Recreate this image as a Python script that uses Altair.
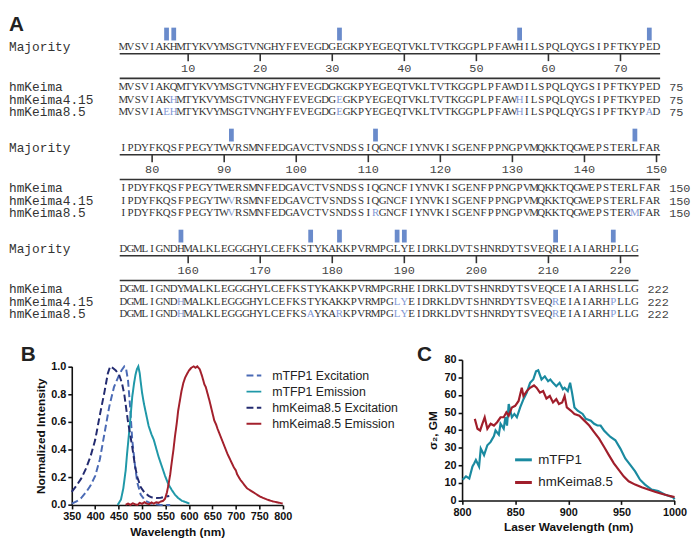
import altair as alt
import pandas as pd

# ---------------- Panel A: sequence alignment ----------------
BLOCK_START = [1, 76, 151]
SEQ_NAMES = ["Majority", "hmKeima", "hmKeima4.15", "hmKeima8.5"]
MAJORITY = [
    "MVSVIAKHMTYKVYMSGTVNGHYFEVEGDGEGKPYEGEQTVKLTVTKGGPLPFAWHILSPQLQYGSIPFTKYPED",
    "IPDYFKQSFPEGYTWVRSMNFEDGAVCTVSNDSSIQGNCFIYNVKISGENFPPNGPVMQKKTQGWEPSTERLFAR",
    "DGMLIGNDHMALKLEGGGHYLCEFKSTYKAKKPVRMPGLYEIDRKLDVTSHNRDYTSVEQREIAIARHPLLG",
]
HMKEIMA = [
    "MVSVIAKQMTYKVYMSGTVNGHYFEVEGDGKGKPYEGEQTVKLTVTKGGPLPFAWDILSPQLQYGSIPFTKYPED",
    "IPDYFKQSFPEGYTWERSMNFEDGAVCTVSNDSSIQGNCFIYNVKISGENFPPNGPVMQKKTQGWEPSTERLFAR",
    "DGMLIGNDYMALKLEGGGHYLCEFKSTYKAKKPVRMPGRHEIDRKLDVTSHNRDYTSVEQCEIAIARHSLLG",
]
HMKEIMA_415 = [
    "MVSVIAKHMTYKVYMSGTVNGHYFEVEGDGEGKPYEGEQTVKLTVTKGGPLPFAWHILSPQLQYGSIPFTKYPED",
    "IPDYFKQSFPEGYTWVRSMNFEDGAVCTVSNDSSIQGNCFIYNVKISGENFPPNGPVMQKKTQGWEPSTERLFAR",
    "DGMLIGNDHMALKLEGGGHYLCEFKSTYKAKKPVRMPGLYEIDRKLDVTSHNRDYTSVEQREIAIARHPLLG",
]
HMKEIMA_85 = [
    "MVSVIAEHMTYKVYMSGTVNGHYFEVEGDGEGKPYEGEQTVKLTVTKGGPLPFAWHILSPQLQYGSIPFTKYPAD",
    "IPDYFKQSFPEGYTWVRSMNFEDGAVCTVSNDSSIRGNCFIYNVKISGENFPPNGPVMQKKTQGWEPSTERMFAR",
    "DGMLIGNDHMALKLEGGGHYLCEFKSAYKARKPVRMPGLYEIDRKLDVTSHNRDYTSVEQREIAIARHPLLG",
]

# ---------------- Panel B: spectra ----------------
B_SERIES = ["mTFP1 Excitation", "mTFP1 Emission", "hmKeima8.5 Excitation", "hmKeima8.5 Emission"]
B_MTFP1_EX_NM = [350, 360, 370, 380, 390, 400, 410, 420, 430, 440, 450, 456, 462, 466, 470, 474, 479, 485, 490, 497, 507, 520, 540, 560]
B_MTFP1_EX_I = [0.01, 0.025, 0.05, 0.09, 0.14, 0.21, 0.33, 0.52, 0.71, 0.85, 0.93, 0.97, 1.0, 0.98, 0.9, 0.73, 0.47, 0.28, 0.16, 0.075, 0.03, 0.01, 0.0, 0.0]
B_MTFP1_EM_NM = [448, 455, 460, 465, 468, 472, 476, 479, 483, 486, 489, 492, 495, 497, 500, 504, 509, 514, 520, 525, 530, 535, 542, 549, 556, 563, 570, 577, 585, 591, 601]
B_MTFP1_EM_I = [0.0, 0.04, 0.12, 0.25, 0.37, 0.51, 0.66, 0.78, 0.88, 0.94, 0.98, 1.0, 0.95, 0.89, 0.81, 0.73, 0.65, 0.57, 0.51, 0.47, 0.41, 0.35, 0.28, 0.21, 0.15, 0.11, 0.075, 0.05, 0.03, 0.023, 0.01]
B_KEIMA_EX_NM = [350, 360, 370, 380, 390, 400, 410, 420, 427, 432, 437, 444, 451, 457, 462, 470, 479, 485, 490, 497, 505, 514, 520, 530, 540, 550, 558]
B_KEIMA_EX_I = [0.095, 0.14, 0.19, 0.26, 0.35, 0.47, 0.65, 0.82, 0.95, 1.0, 0.99, 0.97, 0.94, 0.88, 0.8, 0.6, 0.42, 0.28, 0.2, 0.13, 0.09, 0.066, 0.055, 0.05, 0.052, 0.06, 0.065]
B_KEIMA_EM_NM = [465, 470, 475, 480, 485, 490, 495, 500, 505, 510, 515, 520, 525, 530, 535, 540, 545, 549, 553, 556, 560, 563, 567, 570, 574, 577, 581, 584, 588, 592, 595, 600, 605, 610, 614, 618, 623, 628, 633, 636, 640, 644, 649, 654, 658, 661, 668, 675, 682, 689, 696, 700, 703, 710, 717, 724, 731, 738, 745, 752, 759, 766, 773, 780, 787, 794, 800]
B_KEIMA_EM_I = [0.0, 0.01, 0.0, 0.012, 0.005, 0.0, 0.015, 0.008, 0.02, 0.01, 0.005, 0.018, 0.01, 0.02, 0.015, 0.025, 0.03, 0.045, 0.09, 0.14, 0.22, 0.3, 0.4, 0.49, 0.59, 0.68, 0.76, 0.82, 0.88, 0.92, 0.94, 0.97, 0.99, 1.0, 0.99, 1.0, 0.98, 0.93, 0.87, 0.85, 0.8, 0.75, 0.68, 0.61, 0.58, 0.55, 0.49, 0.43, 0.37, 0.32, 0.27, 0.25, 0.22, 0.18, 0.15, 0.12, 0.105, 0.09, 0.075, 0.06, 0.05, 0.04, 0.032, 0.025, 0.02, 0.015, 0.01]
B_COLORS = ["#4a6ab5", "#1f98a8", "#232b70", "#a3202c"]

# ---------------- Panel C: two-photon cross sections ----------------
C_SERIES = ["mTFP1", "hmKeima8.5"]
C_MTFP1_NM = [800.6, 803.7, 806.8, 809.8, 811.4, 813, 816, 817.6, 820.7, 823.8, 826.9, 830, 831.5, 834.6, 836.2, 839.2, 840.8, 842.3, 843.9, 846.9, 849.2, 851.6, 854.7, 857.8, 860.9, 864, 867, 869.6, 871.7, 874.8, 877.9, 881, 883.1, 885.6, 888.7, 891.8, 894.9, 896.5, 899.5, 901.7, 903.5, 905.8, 908.8, 913.5, 916.5, 921.2, 924.3, 927.4, 930.4, 933.6, 936.6, 939.7, 944.3, 949, 953.6, 958.3, 962.9, 967.5, 972.2, 978.4, 984.6, 990.7, 998.5, 1000]
C_MTFP1_GM = [11.8, 13.7, 12.5, 19.3, 21, 23, 19.3, 29.5, 25.8, 31.4, 33.3, 36.6, 39.8, 37.4, 43.6, 40.8, 47.3, 42.6, 54.8, 47.3, 49.2, 47.3, 52.9, 57.6, 61.3, 66.9, 68.8, 73.4, 74, 68.8, 70.6, 67.8, 68.8, 66.9, 65, 66.9, 63.2, 64.1, 62.2, 66.9, 61.3, 52.9, 51, 49.2, 46.4, 45.4, 43.6, 42.6, 42.6, 39.8, 37.9, 36.1, 34.2, 29.5, 23.9, 20.2, 16.5, 11.8, 9, 6.2, 5.3, 3.4, 1.9, 0.6]
C_KEIMA_NM = [812, 814.5, 817, 819.1, 821.3, 823.8, 826.9, 830, 833, 836.2, 839.2, 841.7, 843.9, 846.9, 850, 853.2, 856.2, 857.8, 860.9, 864, 867.7, 870.1, 873.3, 876.3, 879.4, 882.6, 885.6, 888.7, 891.2, 894.2, 896.5, 898.6, 902.6, 905.8, 910.4, 915.1, 919.7, 924.3, 929, 933.6, 938.2, 942.9, 947.5, 952.1, 956.8, 962.9, 969.1, 975.3, 981.5, 987.7, 993.8, 1000]
C_KEIMA_GM = [46.4, 40.8, 39.8, 43.6, 47.3, 40.8, 43.6, 42.6, 44.5, 47.3, 47.3, 50.1, 48.2, 52.9, 53.8, 56.6, 64.1, 59.4, 62.2, 64.1, 65.4, 64.1, 61.3, 62.2, 58, 59.4, 55.7, 57.6, 54.8, 55.7, 59.4, 52.9, 51, 49.2, 48.2, 45.4, 42.6, 38.9, 35.1, 30.5, 25.8, 21.1, 17.4, 13.7, 10.9, 9, 7.5, 6.2, 4.9, 3.8, 2.8, 1.9]
C_COLORS = ["#1a8aa0", "#a01e2b"]

# ======================= layout / styling =======================
FONT = "Liberation Sans"
A_W, A_H = 692, 327
MAJ_Y = [35, 137.5, 240]
ROW_DY = [0, 40.5, 53, 65.5]
TEXT_DARK = "#333333"
VAR_BLUE = "#7f97d3"
BAR_BLUE = "#6a8bcb"

letters, labels, bars, hrules, ticks, ticklabels, ends = [], [], [], [], [], [], []
for b in range(3):
    seqs = [MAJORITY[b], HMKEIMA[b], HMKEIMA_415[b], HMKEIMA_85[b]]
    n = len(seqs[0])
    y0 = MAJ_Y[b]
    for r, s in enumerate(seqs):
        y = y0 + ROW_DY[r]
        labels.append({"name": SEQ_NAMES[r], "y": y})
        for c, ch in enumerate(s):
            kind = "variant" if (r >= 2 and ch != seqs[1][c]) else "normal"
            letters.append({"x": c + 1, "y": y, "ch": ch, "kind": kind})
        if r >= 1:
            ends.append({"x": n + 1.75, "y": y, "t": str(BLOCK_START[b] + n - 1)})
    for c in range(n):
        if len({s[c] for s in seqs}) > 1:
            bars.append({"x": c + 1 - 0.33, "x2": c + 1 + 0.33, "y": y0 - 20, "y2": y0 - 7})
        pos = BLOCK_START[b] + c
        if pos % 10 == 0:
            ticks.append({"x": c + 1, "y": y0 + 6.5, "y2": y0 + 14})
            ticklabels.append({"x": c + 1, "y": y0 + 20.5, "t": str(pos)})
    for dy in (6.5, 31.5):
        hrules.append({"x": 0.5, "x2": n + 0.5, "y": y0 + dy})

AX = alt.Scale(domain=[1, 75], range=[116, 657], nice=False, zero=False)
AY = alt.Scale(domain=[0, A_H], range=[0, A_H], nice=False, zero=False)


def ax():
    return alt.X("x:Q", scale=AX, axis=None)


def ay():
    return alt.Y("y:Q", scale=AY, axis=None)


a_letters = alt.Chart(pd.DataFrame(letters)).mark_text(
    font="Liberation Serif", fontSize=11, baseline="middle", align="center"
).encode(
    x=ax(), y=ay(), text="ch:N",
    color=alt.Color("kind:N", scale=alt.Scale(domain=["normal", "variant"], range=[TEXT_DARK, VAR_BLUE]), legend=None),
)
a_labels = alt.Chart(pd.DataFrame(labels)).mark_text(
    font="Liberation Mono", fontSize=13, baseline="middle", align="left", color=TEXT_DARK
).encode(x=alt.value(0), y=ay(), text="name:N")
a_bars = alt.Chart(pd.DataFrame(bars)).mark_rect(color=BAR_BLUE).encode(
    x=ax(), x2="x2:Q", y=ay(), y2="y2:Q")
a_hrules = alt.Chart(pd.DataFrame(hrules)).mark_rule(color=TEXT_DARK, strokeWidth=1.6).encode(
    x=ax(), x2="x2:Q", y=ay())
a_ticks = alt.Chart(pd.DataFrame(ticks)).mark_rule(color=TEXT_DARK, strokeWidth=1.6).encode(
    x=ax(), y=ay(), y2="y2:Q")
a_ticklabels = alt.Chart(pd.DataFrame(ticklabels)).mark_text(
    font="Liberation Mono", fontSize=12, baseline="middle", align="center", color="#444444"
).encode(x=ax(), y=ay(), text="t:N")
a_ends = alt.Chart(pd.DataFrame(ends)).mark_text(
    font="Liberation Mono", fontSize=12, baseline="middle", align="left", color="#444444"
).encode(x=ax(), y=ay(), text="t:N")
a_letter = alt.Chart(pd.DataFrame({"t": ["A"]})).mark_text(
    font=FONT, fontSize=21, fontWeight="bold", align="left", baseline="alphabetic", color="#222222"
).encode(x=alt.value(0), y=alt.value(18), text="t:N")

panel_a = alt.layer(a_bars, a_hrules, a_ticks, a_ticklabels, a_letters, a_labels, a_ends, a_letter).properties(
    width=A_W, height=A_H)

AXIS_STYLE = dict(
    grid=False, domainColor="#111111", domainWidth=1.6, tickColor="#111111", tickWidth=1.6, tickSize=4,
    labelFont=FONT, labelFontWeight="bold", labelFontSize=11, labelColor="#111111", labelPadding=2,
    titleFont=FONT, titleFontWeight="bold", titleFontSize=12, titleColor="#111111",
    labelFlush=False, labelOverlap=False,
)

# ---------------- Panel B chart ----------------
PANEL_H = 209
B_W = 412
b_rows = []
for name, xs, ys in zip(B_SERIES,
                        [B_MTFP1_EX_NM, B_MTFP1_EM_NM, B_KEIMA_EX_NM, B_KEIMA_EM_NM],
                        [B_MTFP1_EX_I, B_MTFP1_EM_I, B_KEIMA_EX_I, B_KEIMA_EM_I]):
    for x, y in zip(xs, ys):
        b_rows.append({"series": name, "nm": x, "I": y})

legend_b = alt.Legend(
    orient="none", legendX=240, legendY=32.5, symbolType="stroke", symbolSize=225, symbolStrokeWidth=2,
    labelFont=FONT, labelFontSize=12.5, labelColor="#222222", rowPadding=1.3, labelOffset=10, padding=0,
)
b_lines = alt.Chart(pd.DataFrame(b_rows)).mark_line(strokeWidth=2).encode(
    x=alt.X("nm:Q", scale=alt.Scale(domain=[350, 800], range=[63.7, 277.7], nice=False, zero=False),
            axis=alt.Axis(values=list(range(350, 801, 50)), format="d", title="Wavelength (nm)", offset=-36.7,
                          titlePadding=5, **AXIS_STYLE)),
    y=alt.Y("I:Q", scale=alt.Scale(domain=[0, 1], range=[172.3, 31.7], nice=False, zero=False),
            axis=alt.Axis(values=[0, 0.2, 0.4, 0.6, 0.8, 1.0], format=".1f", title="Normalized Intensity",
                          offset=-63.7, titlePadding=3, **AXIS_STYLE)),
    color=alt.Color("series:N", scale=alt.Scale(domain=B_SERIES, range=B_COLORS), title=None, legend=legend_b),
    strokeDash=alt.StrokeDash("series:N", scale=alt.Scale(domain=B_SERIES, range=[[7, 3.5], [1, 0], [7, 3.5], [1, 0]]),
                              title=None, legend=legend_b),
)
b_letter = alt.Chart(pd.DataFrame({"t": ["B"]})).mark_text(
    font=FONT, fontSize=21, fontWeight="bold", align="left", baseline="alphabetic", color="#222222"
).encode(x=alt.value(12), y=alt.value(26), text="t:N")
panel_b = alt.layer(b_lines, b_letter).properties(width=B_W, height=PANEL_H)

# ---------------- Panel C chart ----------------
C_W = 280
c_rows = []
for name, xs, ys in zip(C_SERIES, [C_MTFP1_NM, C_KEIMA_NM], [C_MTFP1_GM, C_KEIMA_GM]):
    for x, y in zip(xs, ys):
        c_rows.append({"series": name, "nm": x, "GM": y})

legend_c = alt.Legend(
    orient="none", legendX=100, legendY=116.5, symbolType="stroke", symbolSize=289, symbolStrokeWidth=3,
    labelFont=FONT, labelFontSize=13.5, labelColor="#222222", rowPadding=6, labelOffset=5, padding=0,
)
c_lines = alt.Chart(pd.DataFrame(c_rows)).mark_line(strokeWidth=2.2).encode(
    x=alt.X("nm:Q", scale=alt.Scale(domain=[800, 1000], range=[47.7, 263.3], nice=False, zero=False),
            axis=alt.Axis(values=list(range(800, 1001, 50)), format="d", title="Laser Wavelength (nm)", offset=-41.3,
                          titlePadding=5, **AXIS_STYLE)),
    y=alt.Y("GM:Q", scale=alt.Scale(domain=[0, 80], range=[167.7, 25], nice=False, zero=False),
            axis=alt.Axis(values=list(range(0, 81, 10)), format="d", title="σ₂, GM", offset=-47.7,
                          titlePadding=5, **AXIS_STYLE)),
    color=alt.Color("series:N", scale=alt.Scale(domain=C_SERIES, range=C_COLORS), title=None, legend=legend_c),
)
c_letter = alt.Chart(pd.DataFrame({"t": ["C"]})).mark_text(
    font=FONT, fontSize=21, fontWeight="bold", align="left", baseline="alphabetic", color="#222222"
).encode(x=alt.value(2), y=alt.value(26), text="t:N")
panel_c = alt.layer(c_lines, c_letter).properties(width=C_W, height=PANEL_H)

bottom = alt.hconcat(panel_b, panel_c, spacing=0, bounds="flush").resolve_scale(
    color="independent", strokeDash="independent").resolve_legend(color="independent", strokeDash="independent")

chart = alt.vconcat(
    panel_a, bottom, spacing=0, bounds="flush",
).resolve_scale(color="independent", strokeDash="independent").resolve_legend(
    color="independent", strokeDash="independent"
).properties(padding=0).configure_view(stroke="transparent")

chart.save("out.html", embed_options={"renderer": "svg", "actions": False})
